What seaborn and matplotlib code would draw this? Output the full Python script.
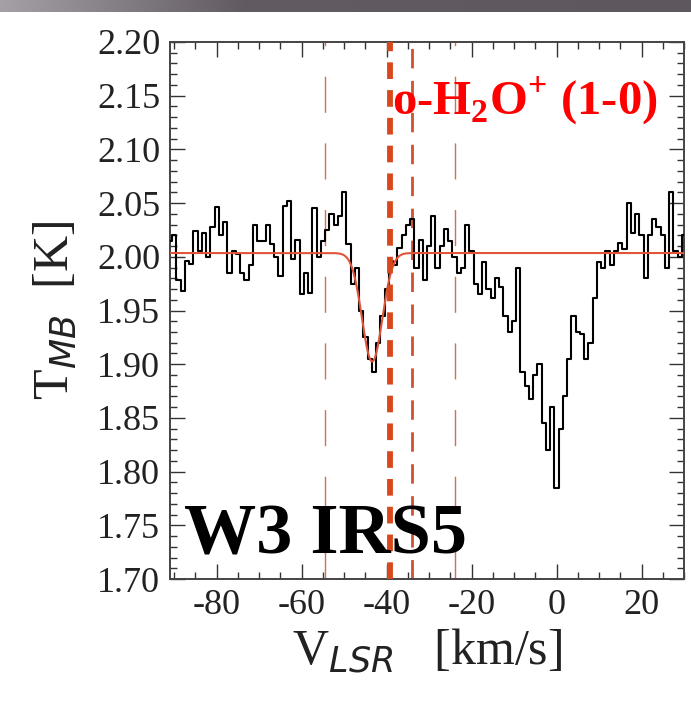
import numpy as np
import pandas as pd
import matplotlib
matplotlib.use("Agg")
import matplotlib.pyplot as plt
import seaborn as sns
from matplotlib.ticker import MultipleLocator, FormatStrFormatter
from matplotlib.colors import LinearSegmentedColormap

# ---------------- data ----------------
velocity = [-91, -90, -89, -88, -87, -86, -85, -84, -83, -82, -81, -80, -79, -78, -77,
            -76, -75, -74, -73, -72, -71, -70, -69, -68, -67, -66, -65, -64, -63, -62,
            -61, -60, -59, -58, -57, -56, -55, -54, -53, -52, -51, -50, -49, -48, -47,
            -46, -45, -44, -43, -42, -41, -40, -39, -38, -37, -36, -35, -34, -33, -32,
            -31, -30, -29, -28, -27, -26, -25, -24, -23, -22, -21, -20, -19, -18, -17,
            -16, -15, -14, -13, -12, -11, -10, -9, -8, -7, -6, -5, -4, -3, -2,
            -1, 0, 1, 2, 3, 4, 5, 6, 7, 8, 9, 10, 11, 12, 13,
            14, 15, 16, 17, 18, 19, 20, 21, 22, 23, 24, 25, 26, 27, 28,
            29, 30]
t_mb = [2.015, 2.020, 1.978, 1.968, 1.996, 1.993, 2.024, 2.005, 2.022, 2.000, 2.028, 2.046,
        2.020, 2.032, 1.985, 2.005, 2.003, 1.985, 1.978, 1.992, 2.030, 2.015, 2.015, 2.030,
        2.012, 2.000, 1.982, 2.047, 2.052, 1.998, 2.016,
        1.965, 1.985, 1.966, 2.045, 2.000, 2.015, 2.025, 2.040, 2.030, 2.038, 2.060, 2.012,
        1.975, 1.990, 1.950, 1.925, 1.905, 1.893, 1.920, 1.945, 1.970, 1.996, 1.992, 2.008,
        2.020, 2.030, 2.035, 1.990, 2.016, 1.978,
        2.010, 2.038, 1.990, 2.010, 2.026, 2.015, 2.000, 1.985, 1.990, 2.030, 2.005, 1.975,
        1.965, 1.995, 1.970, 1.962, 1.980, 1.972, 1.945, 1.930, 1.940, 1.990, 1.893, 1.880,
        1.868, 1.890, 1.900, 1.845, 1.820, 1.860,
        1.785, 1.840, 1.870, 1.905, 1.945, 1.930, 1.928, 1.905, 1.920, 1.962, 1.995, 1.990,
        2.005, 1.992, 2.005, 2.013, 2.007, 2.050, 2.022, 2.040, 2.020, 1.980, 2.020, 2.035,
        2.028, 2.020, 1.990, 2.060, 2.005, 2.000, 2.020]

# Gaussian fit parameters
fit_baseline = 2.0035
fit_depth = 0.101
fit_center = -43.4
fit_fwhm = 5.6

# vertical marker velocities
marker_thin = [-54.5, -24.0]
marker_mid = [-34.0]
marker_thick = [-39.2]

x_limits = (-91, 30)
y_limits = (1.70, 2.20)

source_label = "W3 IRS5"
line_label = r"o-H$_\mathbf{2}$O$^{\mathbf{+}}$ (1-0)"

# ---------------- styling ----------------
sns.set_theme(style="ticks")
plt.rcParams["font.family"] = ["Liberation Serif", "DejaVu Serif"]
plt.rcParams["mathtext.fontset"] = "custom"
plt.rcParams["mathtext.rm"] = "Liberation Serif"
plt.rcParams["mathtext.it"] = "DejaVu Sans:italic"
plt.rcParams["mathtext.bf"] = "Liberation Serif:bold"
plt.rcParams["mathtext.sf"] = "DejaVu Sans"
plt.rcParams["axes.unicode_minus"] = False
plt.rcParams["lines.scale_dashes"] = False

fig = plt.figure(figsize=(6.91, 7.09), dpi=100)
fig.patch.set_facecolor("white")

# gray slide bar at the top
bar = fig.add_axes([0, 1 - 12 / 709, 1, 12 / 709])
grad = np.linspace(0, 1, 256)
cmap = LinearSegmentedColormap.from_list(
    "bar", [(0.0, "#a5a0a5"), (0.35, "#625c62"), (1.0, "#5e585e")])
bar.imshow(grad[None, :], aspect="auto", cmap=cmap, extent=[0, 1, 0, 1])
bar.set_axis_off()

ax = fig.add_axes([170 / 691, 1 - 579 / 709, 514 / 691, 537 / 709])

df = pd.DataFrame({"v": velocity, "T": t_mb})
sns.lineplot(data=df, x="v", y="T", ax=ax, color="black", lw=1.5,
             drawstyle="steps-mid", estimator=None, zorder=3)

v_grid = np.linspace(x_limits[0], x_limits[1], 1200)
sigma = fit_fwhm / 2.3548
model = fit_baseline - fit_depth * np.exp(-0.5 * ((v_grid - fit_center) / sigma) ** 2)
sns.lineplot(x=v_grid, y=model, ax=ax, color="#e0553a", lw=1.5, zorder=4)

for v in marker_thin:
    ax.axvline(v, color="#d4704f", lw=1.0, linestyle=(0, (26, 22)), zorder=2)
for v in marker_mid:
    ax.axvline(v, color="#cf5230", lw=2.0, linestyle=(0, (14, 9)), zorder=2)
for v in marker_thick:
    ax.axvline(v, color="#d9481c", lw=4.2, linestyle=(0, (12, 8)), zorder=5)

ax.set_xlim(*x_limits)
ax.set_ylim(*y_limits)

ax.xaxis.set_major_locator(MultipleLocator(20))
ax.xaxis.set_minor_locator(MultipleLocator(5))
ax.yaxis.set_major_locator(MultipleLocator(0.05))
ax.yaxis.set_minor_locator(MultipleLocator(0.01))
ax.yaxis.set_major_formatter(FormatStrFormatter("%.2f"))
ax.xaxis.set_major_formatter(FormatStrFormatter("%d"))

ax.tick_params(which="both", direction="in", top=True, right=True,
               colors="#333333", labelcolor="#222222")
ax.tick_params(which="major", length=10.5, width=1.0, labelsize=26)
ax.tick_params(axis="y", which="major", pad=7)
ax.tick_params(axis="x", which="major", pad=7)
ax.tick_params(which="minor", length=5, width=1.0)
for s in ax.spines.values():
    s.set_color("#444444")
    s.set_linewidth(1.4)

ax.set_xlabel(r"V$_{\mathit{LSR}}$   [km/s]", fontsize=36, color="#222222", labelpad=4)
ax.set_ylabel(r"T$_{\mathit{MB}}$  [K]", fontsize=36, color="#222222", labelpad=12)

ax.text(0.027, 0.048, source_label, transform=ax.transAxes, fontsize=52,
        fontweight="bold", color="black", ha="left", va="baseline", zorder=6)
ax.text(0.432, 0.864, line_label, transform=ax.transAxes, fontsize=35,
        fontweight="bold", color="#ff0000", ha="left", va="baseline", zorder=6)

ax.set_facecolor("white")
fig.savefig("out.png", dpi=100)
